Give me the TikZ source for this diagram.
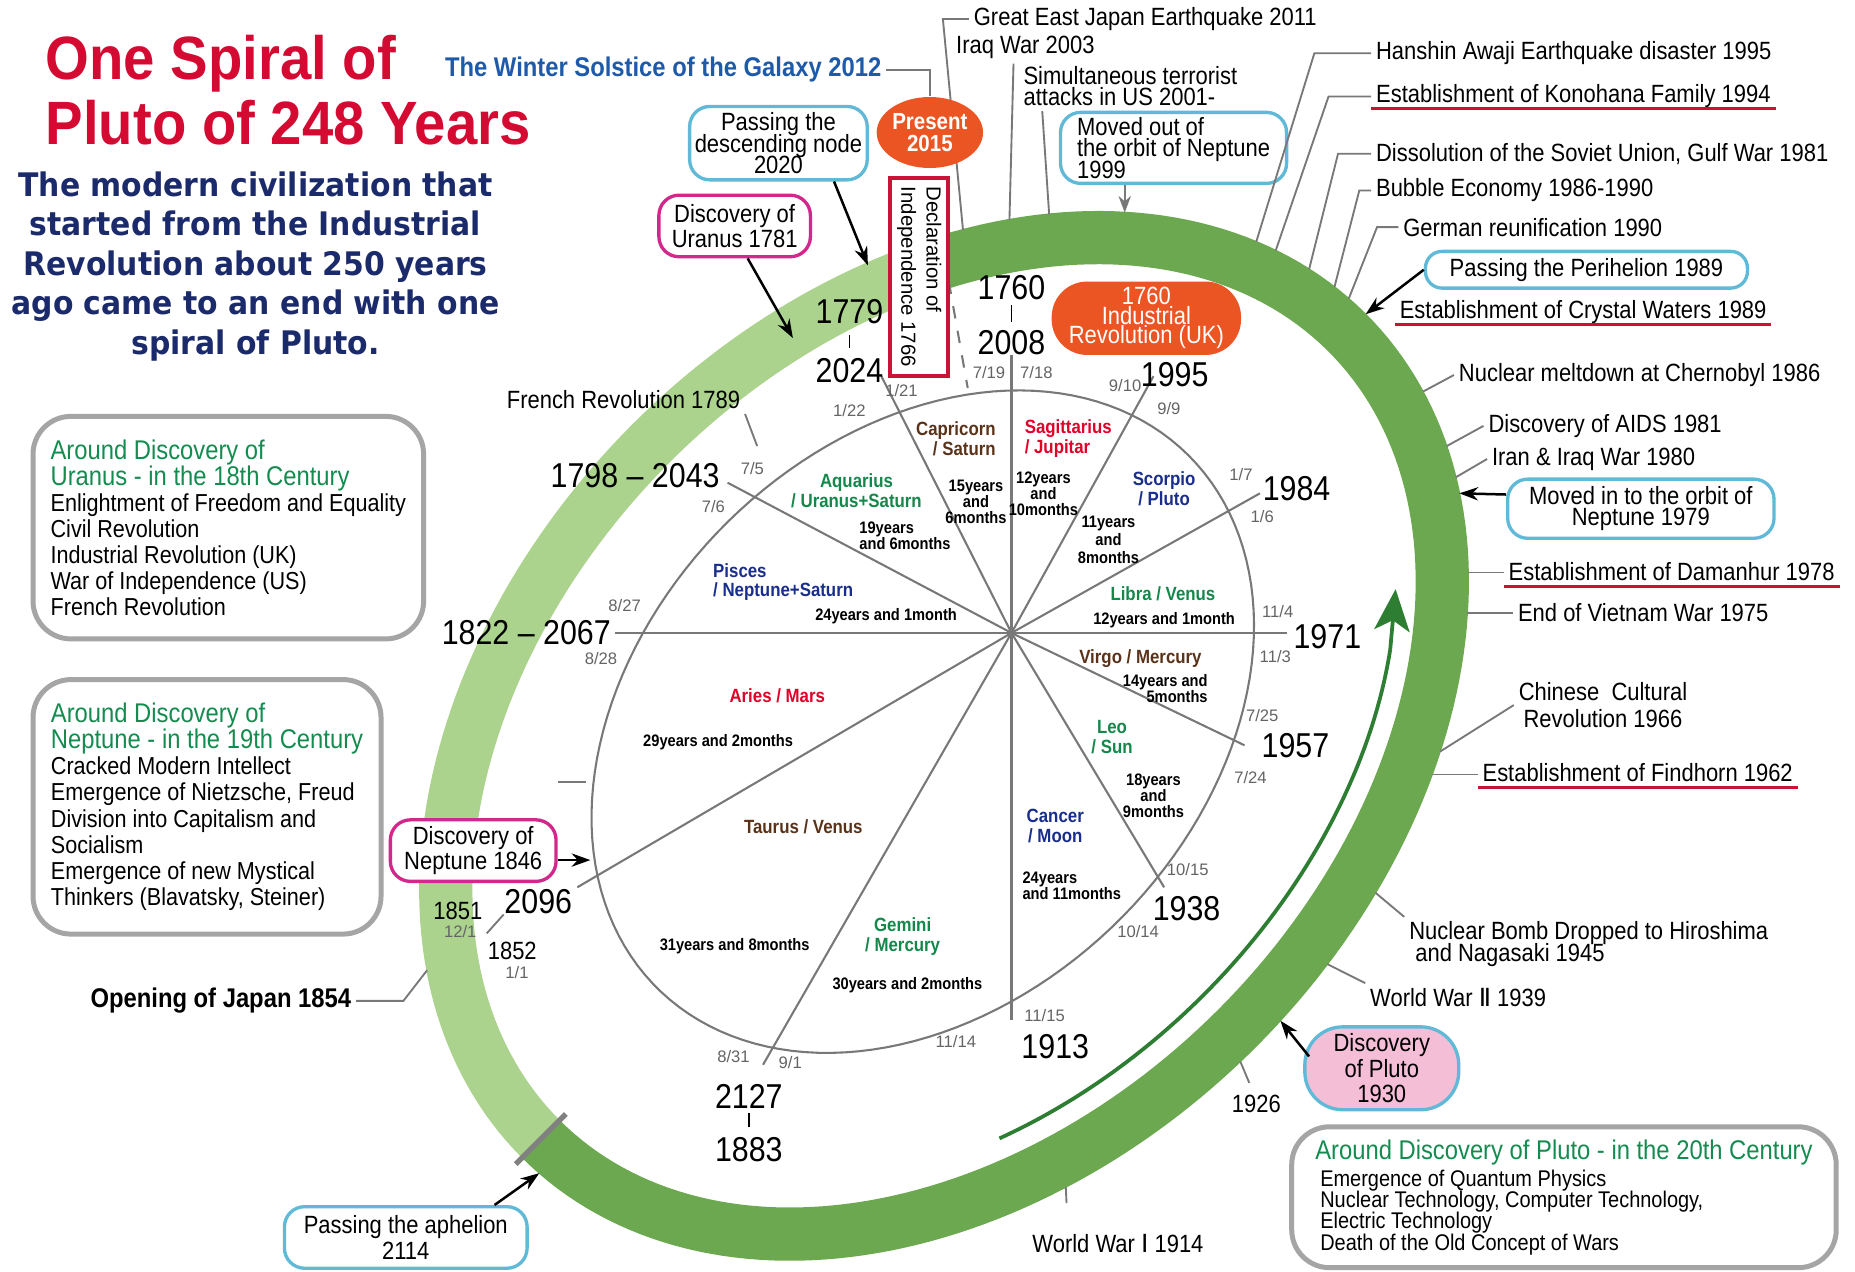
\documentclass[tikz,border=0pt]{standalone}
\usepackage{fontspec}
\setmainfont{Liberation Sans}
\newfontfamily\cnd[FakeStretch=0.88]{Liberation Sans}
\newfontfamily\ttlfnt[FakeStretch=0.92]{Liberation Sans}
\newfontfamily\subfnt[FakeStretch=0.92]{DejaVu Sans}
\newfontfamily\djv{DejaVu Sans}
\usetikzlibrary{calc}
\usetikzlibrary{arrows.meta}
\usetikzlibrary{shapes.geometric}

\definecolor{ttlred}{RGB}{213,10,50}
\definecolor{navy}{RGB}{27,42,107}
\definecolor{wsblue}{RGB}{30,90,170}
\definecolor{bandlt}{RGB}{172,211,141}
\definecolor{banddk}{RGB}{108,168,80}
\definecolor{arrgrn}{RGB}{45,125,50}
\definecolor{cyanbd}{RGB}{95,185,215}
\definecolor{magbd}{RGB}{210,40,140}
\definecolor{plutopink}{RGB}{245,190,215}
\definecolor{orng}{RGB}{235,85,35}
\definecolor{declred}{RGB}{200,20,55}
\definecolor{ulred}{RGB}{200,20,50}
\definecolor{boxgrey}{RGB}{165,165,165}
\definecolor{grn}{RGB}{20,140,80}
\definecolor{sgbrown}{RGB}{90,50,25}
\definecolor{sgred}{RGB}{225,0,40}
\definecolor{sgnavy}{RGB}{25,45,140}
\definecolor{sggreen}{RGB}{20,135,75}
\definecolor{linegrey}{RGB}{120,120,120}
\definecolor{dategrey}{RGB}{100,100,100}
\setlength{\lineskiplimit}{-20pt}

% point on the orbit band, #3 = offset from its middle line
\newcommand\orbpt[3]{\coordinate (#1) at ({798+((482+#3)*cos(#2)+(350+#3)*sin(#2))*0.7071},{622+(-(482+#3)*cos(#2)+(350+#3)*sin(#2))*0.7071});}

\begin{document}
\begin{tikzpicture}[x=0.01cm, y=-0.01cm,
  lead/.style={draw=linegrey, line width=0.45pt},
  spoke/.style={draw=linegrey, line width=0.5pt},
  arr/.style={draw=black, line width=0.6pt, -{Stealth[length=4.5pt,width=3.2pt]}},
  uline/.style={draw=ulred, line width=0.7pt},
  evt/.style={font=\cnd\fontsize{6}{5.1}\selectfont, inner sep=1pt},
  yr/.style={font=\cnd\fontsize{8.3}{8}\selectfont, inner sep=0pt},
  dt/.style={font=\fontsize{4}{4}\selectfont, text=dategrey, inner sep=0pt},
  sign/.style={font=\cnd\bfseries\fontsize{4.6}{4.8}\selectfont, align=center, inner sep=0pt},
  dur/.style={font=\cnd\bfseries\fontsize{4}{3.85}\selectfont, align=center, inner sep=0pt},
  cbox/.style={draw=cyanbd, line width=0.8pt, rounded corners=0.17cm, fill=white, align=center, inner sep=0pt, font=\cnd\fontsize{6}{5.1}\selectfont},
  mbox/.style={cbox, draw=magbd},
  gbox/.style={draw=boxgrey, line width=1.2pt, rounded corners=0.32cm, fill=white, align=left, inner sep=0pt},
  hot/.style={fill=orng, text=white, inner sep=0pt, align=center}]
\useasboundingbox (0,0) rectangle (1568,1075);

% orbit of Pluto
\draw[bandlt, line width=0.45cm] plot[domain=180:305, samples=90] ({798+(482*cos(\x)+350*sin(\x))*0.7071},{622+(-482*cos(\x)+350*sin(\x))*0.7071});
\draw[banddk, line width=0.45cm] plot[domain=305:540, samples=160] ({798+(482*cos(\x)+350*sin(\x))*0.7071},{622+(-482*cos(\x)+350*sin(\x))*0.7071});
\orbpt{mA}{180}{-30}
\orbpt{mB}{180}{30}
\draw[gray, line width=1.3pt] (mA) -- (mB);

\draw[arrgrn, line width=0.9pt] plot[domain=118:44, samples=60] ({798+(442*cos(\x)+310*sin(\x))*0.7071},{622+(-442*cos(\x)+310*sin(\x))*0.7071});
\orbpt{gA}{44}{-40}
\orbpt{gB}{36}{-40}
\draw[arrgrn, line width=0.9pt, -{Stealth[length=10pt,width=8.5pt,inset=2.5pt]}] (gA) -- (gB);

% zodiac wheel
\draw[spoke] plot[domain=0:360, samples=150] ({780+(318*cos(\x)+236*sin(\x))*0.7071},{610+(-318*cos(\x)+236*sin(\x))*0.7071}) -- cycle;
\coordinate (hub) at (855,535);
\coordinate (s2008) at (855,300);
\coordinate (s1913) at (855,862);
\coordinate (s1995) at (975,318);
\coordinate (s1984) at (1065,417);
\coordinate (s1971) at (1088,535);
\coordinate (s1957) at (1052,630);
\coordinate (s1938) at (984,750);
\coordinate (s2127) at (645,900);
\coordinate (s2096) at (488,750);
\coordinate (s1822) at (520,535);
\coordinate (s1798) at (615,408);
\coordinate (s2024) at (745,318);
\draw[spoke] (s2008) -- (s1913);
\draw[spoke] (hub) -- (s1995);
\draw[spoke] (hub) -- (s1984);
\draw[spoke] (hub) -- (s1971);
\draw[spoke] (hub) -- (s1957);
\draw[spoke] (hub) -- (s1938);
\draw[spoke] (hub) -- (s2127);
\draw[spoke] (hub) -- (s2096);
\draw[spoke] (hub) -- (s1822);
\draw[spoke] (hub) -- (s1798);
\draw[spoke] (hub) -- (s2024);
\coordinate (d1766a) at (802,238);
\coordinate (d1766b) at (818,328);
\draw[spoke, dashed] (d1766a) -- (d1766b);
\draw[spoke] (472,661) -- (495,661);

\node[sign, text=sgbrown, align=right] (capr) at (808,371) {Capricorn\\/ Saturn};
\node[sign, text=sgred, align=left] (sagi) at (903,371) {Sagittarius\\/ Jupitar};
\node[sign, text=sgnavy] (scor) at (984,413) {Scorpio\\/ Pluto};
\node[sign, text=sggreen] (aqua) at (724,415) {Aquarius\\/ Uranus+Saturn};
\node[sign, text=sgnavy, align=left] (pisc) at (662,492) {Pisces\\/ Neptune+Saturn};
\node[sign, text=sggreen] (libr) at (983,502) {Libra / Venus};
\node[sign, text=sgbrown] (virg) at (964,557) {Virgo / Mercury};
\node[sign, text=sggreen] (leo) at (940,623) {Leo\\/ Sun};
\node[sign, text=sgred] (arie) at (657,588) {Aries / Mars};
\node[sign, text=sgbrown] (taur) at (679,699) {Taurus / Venus};
\node[sign, text=sgnavy] (canc) at (892,698) {Cancer\\/ Moon};
\node[sign, text=sggreen] (gemi) at (763,792) {Gemini\\/ Mercury};

\node[dur] (dCapr) at (825,424) {15years\\and\\6months};
\node[dur] (dSagi) at (882,417) {12years\\and\\10months};
\node[dur, font=\cnd\bfseries\fontsize{4}{4.3}\selectfont] (dScor) at (937,456) {11years\\and\\8months};
\node[dur, align=left] (dAqua) at (765,453) {19years\\and 6months};
\node[dur] (dPisc) at (749,521) {24years and 1month};
\node[dur] (dLibr) at (984,524) {12years and 1month};
\node[dur, align=right] (dVirg) at (985,582) {14years and\\5months};
\node[dur] (dLeo) at (975,673) {18years\\and\\9months};
\node[dur, align=left] (dCanc) at (906,749) {24years\\and 11months};
\node[dur] (dArie) at (607,627) {29years and 2months};
\node[dur] (dTaur) at (621,800) {31years and 8months};
\node[dur] (dGemi) at (767,833) {30years and 2months};

\node[yr] (y1760) at (855,243) {1760};
\node[yr] (y2008) at (855,290) {2008};
\draw[black, line width=0.4pt] (855,258) -- (855,272);
\node[yr] (y1779) at (718,263) {1779};
\node[yr] (y2024) at (718,313) {2024};
\draw[black, line width=0.4pt] (718,283) -- (718,294);
\node[yr] (y1995) at (993,317) {1995};
\node[yr] (y1984) at (1096,413) {1984};
\node[yr] (y1971) at (1122,538) {1971};
\node[yr] (y1957) at (1095,630) {1957};
\node[yr] (y1938) at (1003,768) {1938};
\node[yr] (y1913) at (892,885) {1913};
\node[yr] (y2127) at (633,927) {2127};
\node[yr] (y1883) at (633,972) {1883};
\draw[black, line width=0.4pt] (633,941) -- (633,953);
\node[yr] (y2096) at (455,762) {2096};
\node[yr, anchor=east] (y1822) at (517,535) {1822 – 2067};
\node[yr, anchor=east] (y1798) at (609,402) {1798 – 2043};
\node[yr, font=\cnd\fontsize{6}{6}\selectfont] (y1851) at (387,770) {1851};
\node[yr, font=\cnd\fontsize{6}{6}\selectfont] (y1852) at (433,804) {1852};

\node[dt] (dJan22) at (718,347) {1/22};
\node[dt] (dJan21) at (762,330) {1/21};
\node[dt] (dJul19) at (836,315) {7/19};
\node[dt] (dJul18) at (876,315) {7/18};
\node[dt] (dSep10) at (951,326) {9/10};
\node[dt] (dSep9) at (988,345) {9/9};
\node[dt] (dJan7) at (1049,401) {1/7};
\node[dt] (dJan6) at (1067,437) {1/6};
\node[dt] (dNov4) at (1080,517) {11/4};
\node[dt] (dNov3) at (1078,555) {11/3};
\node[dt] (dJul25) at (1067,605) {7/25};
\node[dt] (dJul24) at (1057,657) {7/24};
\node[dt] (dOct15) at (1004,735) {10/15};
\node[dt] (dOct14) at (962,787) {10/14};
\node[dt] (dNov15) at (883,858) {11/15};
\node[dt] (dNov14) at (808,880) {11/14};
\node[dt] (dAug31) at (620,893) {8/31};
\node[dt] (dSep1) at (668,898) {9/1};
\node[dt] (dAug27) at (528,512) {8/27};
\node[dt] (dAug28) at (508,557) {8/28};
\node[dt] (dJul5) at (636,396) {7/5};
\node[dt] (dJul6) at (603,428) {7/6};
\node[dt] (dDec1) at (389,787) {12/1};
\node[dt] (dJan1) at (437,822) {1/1};
\draw[lead] ($(dDec1.east)+(8,2)$) -- (y2096.south west);

% title
\node[font=\ttlfnt\bfseries\fontsize{14.7}{15}\selectfont, text=ttlred, anchor=base west, inner sep=0pt] (title1) at (38,67) {One Spiral of};
\node[font=\ttlfnt\bfseries\fontsize{14.7}{15}\selectfont, text=ttlred, anchor=base west, inner sep=0pt] (title2) at (38,122) {Pluto of 248 Years};
\node[font=\subfnt\bfseries\fontsize{7.8}{9.5}\selectfont, text=navy, align=center, inner sep=0pt] (subt) at (216,225) {The modern civilization that\\started from the Industrial\\Revolution about 250 years\\ago came to an end with one\\spiral of Pluto.};

% events above the orbit
\node[evt, anchor=west] (greateast) at (819,16) {Great East Japan Earthquake 2011};
\orbpt{rGE}{308.5}{22}
\draw[lead] (greateast.west) -- ++(-22,0) -- (rGE);
\node[evt, anchor=west] (iraq) at (804,40) {Iraq War 2003};
\orbpt{rIQ}{313.6}{22}
\draw[lead] ($(iraq.south)+(-10,0)$) -- (rIQ);
\node[evt, anchor=west, align=left] (simul) at (861,73) {Simultaneous terrorist\\attacks in US 2001-};
\orbpt{rSI}{318}{22}
\draw[lead] ($(simul.south west)+(20,0)$) -- (rSI);

\node[hot, shape=ellipse, minimum width=0.82cm, minimum height=0.6cm, font=\cnd\bfseries\fontsize{5.6}{5.1}\selectfont] (present) at (786,112) {Present\\2015};
\node[font=\cnd\bfseries\fontsize{6.5}{6}\selectfont, text=wsblue, anchor=west, inner sep=1pt] (winter) at (372,59) {The Winter Solstice of the Galaxy 2012};
\draw[lead] (winter.east) -| (present.north);

\node[draw=declred, line width=1pt, fill=white, rotate=-90, minimum width=1.67cm, minimum height=0.49cm, inner sep=0pt, align=left, font=\fontsize{4.9}{6.1}\selectfont] (decl) at (777,234) {Declaration of\\Independence 1766};
\node[hot, rounded corners=0.3cm, minimum width=1.6cm, minimum height=0.62cm, font=\cnd\fontsize{6}{4.7}\selectfont] (indrev) at (969,269) {1760\\Industrial\\Revolution (UK)};

\node[cbox, minimum width=1.5cm, minimum height=0.62cm] (desc) at (658,121) {Passing the\\descending node\\2020};
\orbpt{rDN}{298}{20}
\draw[arr] ($(desc.south)+(47,0)$) -- (rDN);
\node[mbox, minimum width=1.28cm, minimum height=0.52cm, font=\cnd\fontsize{6}{6}\selectfont] (uranus) at (621,191) {Discovery of\\Uranus 1781};
\orbpt{rUR}{288}{-5}
\draw[arr] ($(uranus.south)+(11,0)$) -- (rUR);
\node[cbox, minimum width=1.91cm, minimum height=0.6cm, align=left] (movedout) at (992,125) {Moved out of\\the orbit of Neptune\\1999};
\orbpt{rMO}{326.6}{22}
\draw[lead, -{Stealth[length=4pt,width=3pt]}] (movedout.south -| rMO) -- (rMO);

% events right of the orbit
\node[evt, anchor=west] (hanshin) at (1159,45) {Hanshin Awaji Earthquake disaster 1995};
\orbpt{rHA}{343}{22}
\draw[lead] (hanshin.west) -- ++(-48,0) -- (rHA);
\node[evt, anchor=base west] (konohana) at (1159,87) {Establishment of Konohana Family 1994};
\draw[uline] ($(konohana.base west)+(0,5)$) -- ($(konohana.base east)+(0,5)$);
\orbpt{rKO}{345.7}{22}
\draw[lead] (konohana.west) -- ++(-36,0) -- (rKO);
\node[evt, anchor=west] (dissol) at (1159,130) {Dissolution of the Soviet Union, Gulf War 1981};
\orbpt{rDI}{350.6}{22}
\draw[lead] (dissol.west) -- ++(-28,0) -- (rDI);
\node[evt, anchor=west] (bubble) at (1159,161) {Bubble Economy 1986-1990};
\orbpt{rBU}{354.6}{22}
\draw[lead] (bubble.west) -- ++(-10,0) -- (rBU);
\node[evt, anchor=west] (german) at (1182,192) {German reunification 1990};
\orbpt{rGR}{357}{22}
\draw[lead] (german.west) -- ++(-18,0) -- (rGR);
\node[cbox, minimum width=2.72cm, minimum height=0.31cm, rounded corners=0.14cm] (peri) at (1341,228) {Passing the Perihelion 1989};
\orbpt{rPE}{0}{22}
\draw[arr] (peri.west) -- (rPE);
\node[evt, anchor=base west] (crystal) at (1179,269) {Establishment of Crystal Waters 1989};
\draw[uline] ($(crystal.base west)+(0,5)$) -- ($(crystal.base east)+(0,5)$);
\node[evt, anchor=west] (chernobyl) at (1229,317) {Nuclear meltdown at Chernobyl 1986};
\orbpt{rCN}{12.5}{22}
\draw[lead] (chernobyl.west) -- (rCN);
\node[evt, anchor=west] (aids) at (1254,360) {Discovery of AIDS 1981};
\orbpt{rAI}{20}{22}
\draw[lead] (aids.west) -- (rAI);
\node[evt, anchor=west] (iran) at (1257,388) {Iran \& Iraq War 1980};
\orbpt{rIR}{24}{22}
\draw[lead] (iran.west) -- (rIR);
\node[cbox, minimum width=2.25cm, minimum height=0.5cm] (movedin) at (1387,430) {Moved in to the orbit of\\Neptune 1979};
\orbpt{rMI}{26}{22}
\draw[arr] ($(movedin.west)+(0,-12)$) -- (rMI);
\node[evt, anchor=base west] (damanhur) at (1271,491) {Establishment of Damanhur 1978};
\draw[uline] ($(damanhur.base west)+(0,5)$) -- ($(damanhur.base east)+(0,5)$);
\orbpt{rDA}{35.4}{22}
\draw[lead] (rDA) -- (rDA -| damanhur.west);
\node[evt, anchor=west] (vietnam) at (1279,518) {End of Vietnam War 1975};
\orbpt{rVI}{40}{22}
\draw[lead] (rVI) -- (rVI -| vietnam.west);
\node[evt, align=center, font=\cnd\fontsize{6}{6.3}\selectfont] (chinese) at (1355,596) {Chinese\ \ Cultural\\Revolution 1966};
\orbpt{rCH}{55.3}{22}
\draw[lead] (chinese.west) -- (rCH);
\node[evt, anchor=base west] (findhorn) at (1249,661) {Establishment of Findhorn 1962};
\draw[uline] ($(findhorn.base west)+(0,5)$) -- ($(findhorn.base east)+(0,5)$);
\orbpt{rFI}{57.8}{22}
\draw[lead] (rFI) -- (rFI -| findhorn.west);
\node[evt, anchor=north west, align=left] (hiroshima) at (1187,775) {Nuclear Bomb Dropped to Hiroshima\\\ and Nagasaki 1945};
\orbpt{rHI}{71}{22}
\draw[lead] (hiroshima.north west) -- (rHI);
\node[evt, anchor=west] (ww2) at (1154,843) {World War {\djv Ⅱ} 1939};
\orbpt{rW2}{79.4}{22}
\draw[lead] (ww2.north west) -- (rW2);
\node[cbox, fill=plutopink, minimum width=1.3cm, minimum height=0.7cm, rounded corners=0.32cm, font=\cnd\fontsize{6}{6.1}\selectfont] (plutod) at (1168,903) {Discovery\\of Pluto\\1930};
\orbpt{rPL}{86.5}{22}
\draw[arr] ($(plutod.west)+(5,-10)$) -- (rPL);
\node[evt] (y1926) at (1062,933) {1926};
\orbpt{rY26}{92}{22}
\draw[lead] ($(y1926.north)+(-6,-6)$) -- (rY26);
\node[evt] (ww1) at (945,1051) {World War {\djv Ⅰ} 1914};
\orbpt{rW1}{113}{22}
\draw[lead] ($(ww1.north west)+(33,-22)$) -- (rW1);

\node[gbox, minimum width=4.6cm, minimum height=1.19cm, font=\cnd\fontsize{5.45}{5.1}\selectfont] (c20) at (1322,1012) {{\fontsize{6.5}{6}\selectfont\color{grn}Around Discovery of Pluto - in the 20th Century}\\[1.4pt]\hspace*{1.2pt}Emergence of Quantum Physics\\\hspace*{1.2pt}Nuclear Technology, Computer Technology,\\\hspace*{1.2pt}Electric Technology\\\hspace*{1.2pt}Death of the Old Concept of Wars};

% left side
\node[gbox, minimum width=3.3cm, minimum height=1.88cm, font=\cnd\fontsize{5.9}{6.26}\selectfont] (c18) at (193,446) {{\fontsize{6.5}{6}\selectfont\color{grn}Around Discovery of}\\{\fontsize{6.5}{6}\selectfont\color{grn}Uranus - in the 18th Century}\\Enlightment of Freedom and Equality\\Civil Revolution\\Industrial Revolution (UK)\\War of Independence (US)\\French Revolution};
\node[gbox, minimum width=2.94cm, minimum height=2.15cm, font=\cnd\fontsize{5.9}{6.3}\selectfont] (c19) at (175,682) {{\fontsize{6.5}{6}\selectfont\color{grn}Around Discovery of}\\{\fontsize{6.5}{6}\selectfont\color{grn}Neptune - in the 19th Century}\\Cracked Modern Intellect\\Emergence of Nietzsche, Freud\\Division into Capitalism and\\Socialism\\Emergence of new Mystical\\Thinkers (Blavatsky, Steiner)};

\node[evt] (french) at (527,338) {French Revolution 1789};
\coordinate (frEnd) at (640,377);
\draw[lead] (french.south east) -- (frEnd);

\node[mbox, minimum width=1.4cm, minimum height=0.52cm, font=\cnd\fontsize{6}{6}\selectfont] (neptune) at (400,719) {Discovery of\\Neptune 1846};
\coordinate (zN) at (499,727);
\draw[arr] (neptune.east |- zN) -- (zN);

\node[evt, anchor=east, font=\cnd\bfseries\fontsize{6.5}{6}\selectfont] (japan) at (301,846) {Opening of Japan 1854};
\orbpt{rJA}{207}{22}
\draw[lead] (japan.east) -- ++(40,0) -- (rJA);

\node[cbox, minimum width=2.05cm, minimum height=0.52cm, font=\cnd\fontsize{6}{6.3}\selectfont] (aphel) at (343,1046) {Passing the aphelion\\2114};
\orbpt{rAP}{177}{22}
\draw[arr] ($(aphel.north)+(75,0)$) -- (rAP);
\end{tikzpicture}
\end{document}
